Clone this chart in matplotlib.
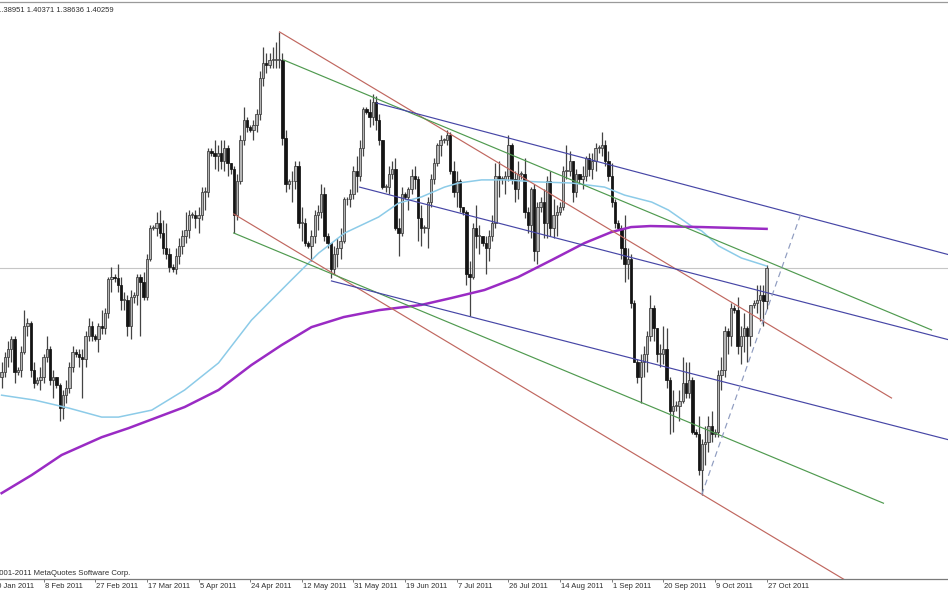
import numpy as np
import matplotlib
matplotlib.use("Agg")
import matplotlib.pyplot as plt

# EURUSD daily, 24 Jan 2011 .. 27 Oct 2011 (broker shows sunday bars)
firstOpen = 1.3600
highs = [1.3660, 1.3700, 1.3740, 1.3760, 1.3760, 1.3640, 1.3720, 1.3860, 1.3830, 1.3820,
         1.3660, 1.3600, 1.3640, 1.3690, 1.3760, 1.3720, 1.3630, 1.3600, 1.3580, 1.3550,
         1.3590, 1.3660, 1.3720, 1.3710, 1.3710, 1.3710, 1.3780, 1.3830, 1.3820, 1.3770,
         1.3810, 1.3860, 1.3870, 1.3990, 1.4030, 1.4000, 1.4040, 1.3990, 1.3930, 1.3920,
         1.3940, 1.3930, 1.4000, 1.4000, 1.4010, 1.4080, 1.4190, 1.4190, 1.4240, 1.4250,
         1.4210, 1.4200, 1.4100, 1.4040, 1.4100, 1.4140, 1.4170, 1.4240, 1.4250, 1.4240,
         1.4250, 1.4260, 1.4340, 1.4340, 1.4490, 1.4490, 1.4520, 1.4500, 1.4520, 1.4520,
         1.4500, 1.4430, 1.4420, 1.4390, 1.4540, 1.4650, 1.4610, 1.4580, 1.4600, 1.4640,
         1.4790, 1.4880, 1.4860, 1.4860, 1.4880, 1.4900, 1.4940, 1.4860, 1.4560, 1.4370,
         1.4400, 1.4440, 1.4440, 1.4260, 1.4220, 1.4130, 1.4170, 1.4250, 1.4270, 1.4350,
         1.4340, 1.4160, 1.4120, 1.4110, 1.4140, 1.4180, 1.4300, 1.4300, 1.4330, 1.4420,
         1.4460, 1.4520, 1.4650, 1.4650, 1.4680, 1.4700, 1.4690, 1.4620, 1.4520, 1.4350,
         1.4420, 1.4440, 1.4450, 1.4220, 1.4340, 1.4320, 1.4340, 1.4410, 1.4420, 1.4380,
         1.4270, 1.4190, 1.4300, 1.4390, 1.4450, 1.4510, 1.4540, 1.4530, 1.4560, 1.4550,
         1.4440, 1.4400, 1.4370, 1.4260, 1.4250, 1.4050, 1.4200, 1.4270, 1.4190, 1.4150,
         1.4150, 1.4170, 1.4230, 1.4430, 1.4440, 1.4380, 1.4400, 1.4540, 1.4510, 1.4400,
         1.4440, 1.4400, 1.4450, 1.4260, 1.4340, 1.4350, 1.4280, 1.4300, 1.4330, 1.4380,
         1.4400, 1.4290, 1.4270, 1.4280, 1.4420, 1.4500, 1.4480, 1.4440, 1.4410, 1.4390,
         1.4420, 1.4460, 1.4470, 1.4470, 1.4510, 1.4500, 1.4550, 1.4520, 1.4480, 1.4430,
         1.4290, 1.4210, 1.4190, 1.4230, 1.4100, 1.4080, 1.3900, 1.3670, 1.3690, 1.3720,
         1.3780, 1.3920, 1.3880, 1.3790, 1.3730, 1.3800, 1.3790, 1.3600, 1.3550, 1.3510,
         1.3550, 1.3680, 1.3660, 1.3660, 1.3600, 1.3400, 1.3450, 1.3360, 1.3410, 1.3450,
         1.3470, 1.3400, 1.3630, 1.3680, 1.3800, 1.3790, 1.3890, 1.3880, 1.3910, 1.3800,
         1.3850, 1.3800, 1.3880, 1.3900, 1.3960, 1.3960, 1.3960, 1.40371]
lows = [1.3560, 1.3600, 1.3640, 1.3660, 1.3580, 1.3610, 1.3600, 1.3690, 1.3760, 1.3600,
        1.3560, 1.3570, 1.3550, 1.3580, 1.3660, 1.3570, 1.3520, 1.3560, 1.3430, 1.3440,
        1.3500, 1.3540, 1.3620, 1.3680, 1.3640, 1.3520, 1.3640, 1.3740, 1.3740, 1.3740,
        1.3700, 1.3770, 1.3770, 1.3830, 1.3930, 1.3970, 1.3930, 1.3860, 1.3860, 1.3760,
        1.3750, 1.3890, 1.3880, 1.3760, 1.3900, 1.3900, 1.4050, 1.4170, 1.4150, 1.4140,
        1.4080, 1.4060, 1.4010, 1.4010, 1.4000, 1.4040, 1.4080, 1.4120, 1.4140, 1.4220,
        1.4180, 1.4160, 1.4210, 1.4250, 1.4300, 1.4460, 1.4410, 1.4400, 1.4410, 1.4400,
        1.4380, 1.4390, 1.4160, 1.4210, 1.4350, 1.4500, 1.4550, 1.4550, 1.4520, 1.4550,
        1.4600, 1.4730, 1.4780, 1.4800, 1.4800, 1.4800, 1.4800, 1.4500, 1.4320, 1.4330,
        1.4280, 1.4330, 1.4180, 1.4130, 1.4110, 1.4100, 1.4050, 1.4120, 1.4170, 1.4220,
        1.4130, 1.4100, 1.3985, 1.4000, 1.4030, 1.4060, 1.4120, 1.4270, 1.4260, 1.4290,
        1.4320, 1.4360, 1.4460, 1.4620, 1.4570, 1.4580, 1.4560, 1.4500, 1.4330, 1.4320,
        1.4310, 1.4370, 1.4170, 1.4070, 1.4150, 1.4290, 1.4250, 1.4310, 1.4330, 1.4130,
        1.4110, 1.4160, 1.4100, 1.4260, 1.4350, 1.4420, 1.4460, 1.4510, 1.4500, 1.4390,
        1.4300, 1.4260, 1.4240, 1.4230, 1.3960, 1.3837, 1.3980, 1.4100, 1.4080, 1.4110,
        1.4000, 1.4050, 1.4130, 1.4180, 1.4300, 1.4350, 1.4310, 1.4360, 1.4350, 1.4280,
        1.4290, 1.4370, 1.4220, 1.4160, 1.4140, 1.4050, 1.4040, 1.4240, 1.4140, 1.4140,
        1.4150, 1.4140, 1.4150, 1.4230, 1.4250, 1.4370, 1.4380, 1.4280, 1.4300, 1.4350,
        1.4330, 1.4360, 1.4380, 1.4370, 1.4400, 1.4470, 1.4460, 1.4420, 1.4360, 1.4260,
        1.4180, 1.4170, 1.4060, 1.3970, 1.3980, 1.3870, 1.3660, 1.3580, 1.3500, 1.3600,
        1.3620, 1.3740, 1.3740, 1.3660, 1.3640, 1.3650, 1.3560, 1.3380, 1.3390, 1.3470,
        1.3430, 1.3500, 1.3520, 1.3520, 1.3380, 1.3370, 1.3220, 1.3145, 1.3260, 1.3310,
        1.3350, 1.3370, 1.3370, 1.3550, 1.3600, 1.3690, 1.3720, 1.3850, 1.3690, 1.3650,
        1.3700, 1.3660, 1.3720, 1.3870, 1.3850, 1.3820, 1.3800, 1.38636]
closes = [1.3620, 1.3680, 1.3710, 1.3750, 1.3620, 1.3630, 1.3700, 1.3800, 1.3810, 1.3630,
          1.3580, 1.3590, 1.3600, 1.3680, 1.3710, 1.3590, 1.3600, 1.3570, 1.3480, 1.3530,
          1.3560, 1.3640, 1.3700, 1.3690, 1.3680, 1.3670, 1.3760, 1.3800, 1.3760, 1.3750,
          1.3800, 1.3790, 1.3850, 1.3980, 1.3990, 1.3985, 1.3960, 1.3900, 1.3900, 1.3800,
          1.3910, 1.3920, 1.3990, 1.3970, 1.3910, 1.4060, 1.4180, 1.4180, 1.4200, 1.4160,
          1.4100, 1.4080, 1.4030, 1.4020, 1.4070, 1.4110, 1.4150, 1.4170, 1.4230, 1.4230,
          1.4220, 1.4230, 1.4320, 1.4320, 1.4480, 1.4470, 1.4460, 1.4470, 1.4440, 1.4490,
          1.4430, 1.4410, 1.4230, 1.4360, 1.4520, 1.4600, 1.4570, 1.4560, 1.4580, 1.4620,
          1.4760, 1.4820, 1.4810, 1.4830, 1.4830, 1.4830, 1.4830, 1.4530, 1.4350, 1.4360,
          1.4360, 1.4420, 1.4200, 1.4200, 1.4120, 1.4110, 1.4150, 1.4230, 1.4240, 1.4310,
          1.4150, 1.4120, 1.4020, 1.4080, 1.4100, 1.4130, 1.4290, 1.4290, 1.4310, 1.4400,
          1.4380, 1.4490, 1.4640, 1.4630, 1.4610, 1.4670, 1.4600, 1.4520, 1.4340, 1.4340,
          1.4390, 1.4410, 1.4180, 1.4160, 1.4310, 1.4300, 1.4330, 1.4380, 1.4370, 1.4220,
          1.4180, 1.4180, 1.4280, 1.4370, 1.4430, 1.4500, 1.4520, 1.4520, 1.4540, 1.4400,
          1.4320, 1.4360, 1.4260, 1.4240, 1.4000, 1.3990, 1.4180, 1.4150, 1.4150, 1.4120,
          1.4100, 1.4150, 1.4200, 1.4380, 1.4370, 1.4370, 1.4380, 1.4500, 1.4370, 1.4330,
          1.4390, 1.4390, 1.4240, 1.4190, 1.4330, 1.4090, 1.4260, 1.4280, 1.4200, 1.4360,
          1.4180, 1.4230, 1.4240, 1.4260, 1.4400, 1.4400, 1.4440, 1.4320, 1.4390, 1.4370,
          1.4380, 1.4450, 1.4410, 1.4440, 1.4490, 1.4490, 1.4500, 1.4440, 1.4380, 1.4280,
          1.4200, 1.4180, 1.4100, 1.4040, 1.4060, 1.3890, 1.3660, 1.3600, 1.3660, 1.3690,
          1.3760, 1.3870, 1.3790, 1.3690, 1.3690, 1.3710, 1.3590, 1.3470, 1.3490, 1.3490,
          1.3510, 1.3580, 1.3540, 1.3590, 1.3390, 1.3380, 1.3240, 1.3340, 1.3350, 1.3410,
          1.3380, 1.3390, 1.3610, 1.3630, 1.3780, 1.3760, 1.3870, 1.3860, 1.3720, 1.3760,
          1.3790, 1.3760, 1.3880, 1.3890, 1.3900, 1.3920, 1.38951, 1.40259]

dateLabels = ["20 Jan 2011", "8 Feb 2011", "27 Feb 2011", "17 Mar 2011", "5 Apr 2011",
              "24 Apr 2011", "12 May 2011", "31 May 2011", "19 Jun 2011", "7 Jul 2011",
              "26 Jul 2011", "14 Aug 2011", "1 Sep 2011", "20 Sep 2011", "9 Oct 2011",
              "27 Oct 2011"]
labelBars = [-3, 13, 29, 45, 61, 77, 93, 109, 125, 141, 157, 173, 189, 205, 221, 237]

# moving averages (bar index, price)
maFastBars = [0, 10.2, 20.8, 31, 36.2, 46.5, 56.7, 67.2, 77.4, 80.5, 89.8, 98.2, 106.3,
              116.8, 123, 130.1, 137.2, 141.6, 148.7, 155.8, 166.4, 176.6, 186.8, 193,
              201.4, 206.6, 213.7, 216.9, 222.1, 229.2, 237]
maFastValues = [1.3531, 1.3512, 1.3481, 1.3446, 1.3446, 1.3473, 1.3551, 1.3656, 1.3822,
                1.3861, 1.3978, 1.4082, 1.4160, 1.4222, 1.4276, 1.4300, 1.4338, 1.4354,
                1.4366, 1.4366, 1.4358, 1.4354, 1.4338, 1.4307, 1.4280, 1.4249, 1.4187,
                1.4168, 1.4110, 1.4063, 1.4032]
maSlowBars = [0, 9.3, 18.6, 31, 39.3, 56.7, 67.2, 77.4, 86.7, 96, 106, 117, 130, 139.4,
              149.6, 160, 170.4, 180.6, 189, 195, 201, 217, 237]
maSlowValues = [1.3151, 1.3221, 1.3299, 1.3368, 1.3403, 1.3485, 1.3551, 1.3648, 1.3725,
                1.3795, 1.3834, 1.3861, 1.3881, 1.3908, 1.3939, 1.3989, 1.4055, 1.4121,
                1.4164, 1.4183, 1.4187, 1.4183, 1.4176]

# drawn objects: (bar0, price0, bar1, price1)
redLines = [(86.1, 1.4940, 275.7, 1.3520), (71.9, 1.4234, 275.7, 1.2706)]
greenLines = [(87.4, 1.4831, 288.1, 1.3784), (71.9, 1.4160, 273.2, 1.3112)]
blueLines = [(116.2, 1.4664, 293.7, 1.4075), (110.9, 1.4338, 293.7, 1.3745),
             (102.2, 1.3974, 293.7, 1.3357)]
dashedLine = (216.9, 1.3145, 247.8, 1.4241)
bidPrice = 1.40259
ohlcText = "1.38951 1.40371 1.38636 1.40259"

W, H = 948, 593
fig = plt.figure(figsize=(W/100, H/100), dpi=100)
ax = fig.add_axes([0, 14/H, 1, 577/H])
ax.set_xlim(-0.5, 293.2)
ax.set_ylim(1.2818, 1.5056)

closes = np.array(closes)
opens = np.concatenate([[firstOpen], closes[:-1]])
x = np.arange(len(closes))
up = closes >= opens

ax.vlines(x, lows, highs, color="#444444", linewidth=0.9, zorder=2)
bodyH = np.maximum(np.abs(closes - opens), 0.0003)
bodyB = np.minimum(opens, closes)
ax.bar(x[up], bodyH[up], bottom=bodyB[up], width=0.72, facecolor="#b4b4b4",
       edgecolor="#383838", linewidth=0.55, zorder=2.5)
ax.bar(x[~up], bodyH[~up], bottom=bodyB[~up], width=0.72, facecolor="#141414",
       edgecolor="#141414", linewidth=0.55, zorder=2.5)

ax.axhline(bidPrice, color="#c6c6c6", linewidth=0.8, zorder=1)

ax.plot(maFastBars, maFastValues, color="#8ccbe8", linewidth=1.1, zorder=3)
ax.plot(maSlowBars, maSlowValues, color="#9a2bc4", linewidth=1.8, zorder=3)

for b0, p0, b1, p1 in redLines:
    ax.plot([b0, b1], [p0, p1], color="#c0675f", linewidth=0.85, zorder=4)
for b0, p0, b1, p1 in greenLines:
    ax.plot([b0, b1], [p0, p1], color="#4f9a4f", linewidth=0.85, zorder=4)
for b0, p0, b1, p1 in blueLines:
    ax.plot([b0, b1], [p0, p1], color="#4646a6", linewidth=0.85, zorder=4)
ax.plot([dashedLine[0], dashedLine[2]], [dashedLine[1], dashedLine[3]],
        color="#8f9cc0", linewidth=0.85, dashes=(5, 3.5), zorder=4)

for s in ["left", "right"]:
    ax.spines[s].set_visible(False)
ax.spines["bottom"].set_color("#7a7a7a")
ax.spines["top"].set_color("#9a9a9a")
ax.spines["bottom"].set_linewidth(0.9)
ax.spines["top"].set_linewidth(0.9)
ax.set_yticks([])
ax.set_xticks([b for b in labelBars if b >= 0])
ax.tick_params(axis="x", direction="out", length=2.5, width=0.6, color="#666666",
               labelbottom=False)

# the chart is cropped on the left, so the first labels run off the edge
font = "Liberation Sans"
for lbl, b in zip(dateLabels, labelBars):
    ax.annotate(lbl, xy=(b, 0), xycoords=("data", "axes fraction"), xytext=(1, -4),
                textcoords="offset pixels", ha="left", va="top", fontsize=5.5,
                family=font, color="#2e2e2e", annotation_clip=False)

fig.text(130/W, 1 - 573/H, "© 2001-2011 MetaQuotes Software Corp.", ha="right",
         va="center", fontsize=5.6, family=font, color="#2e2e2e")
fig.text(-3/W, 1 - 10/H, ohlcText, ha="left", va="center", fontsize=5.5,
         family=font, color="#2e2e2e")

fig.savefig("out.png", dpi=100)
